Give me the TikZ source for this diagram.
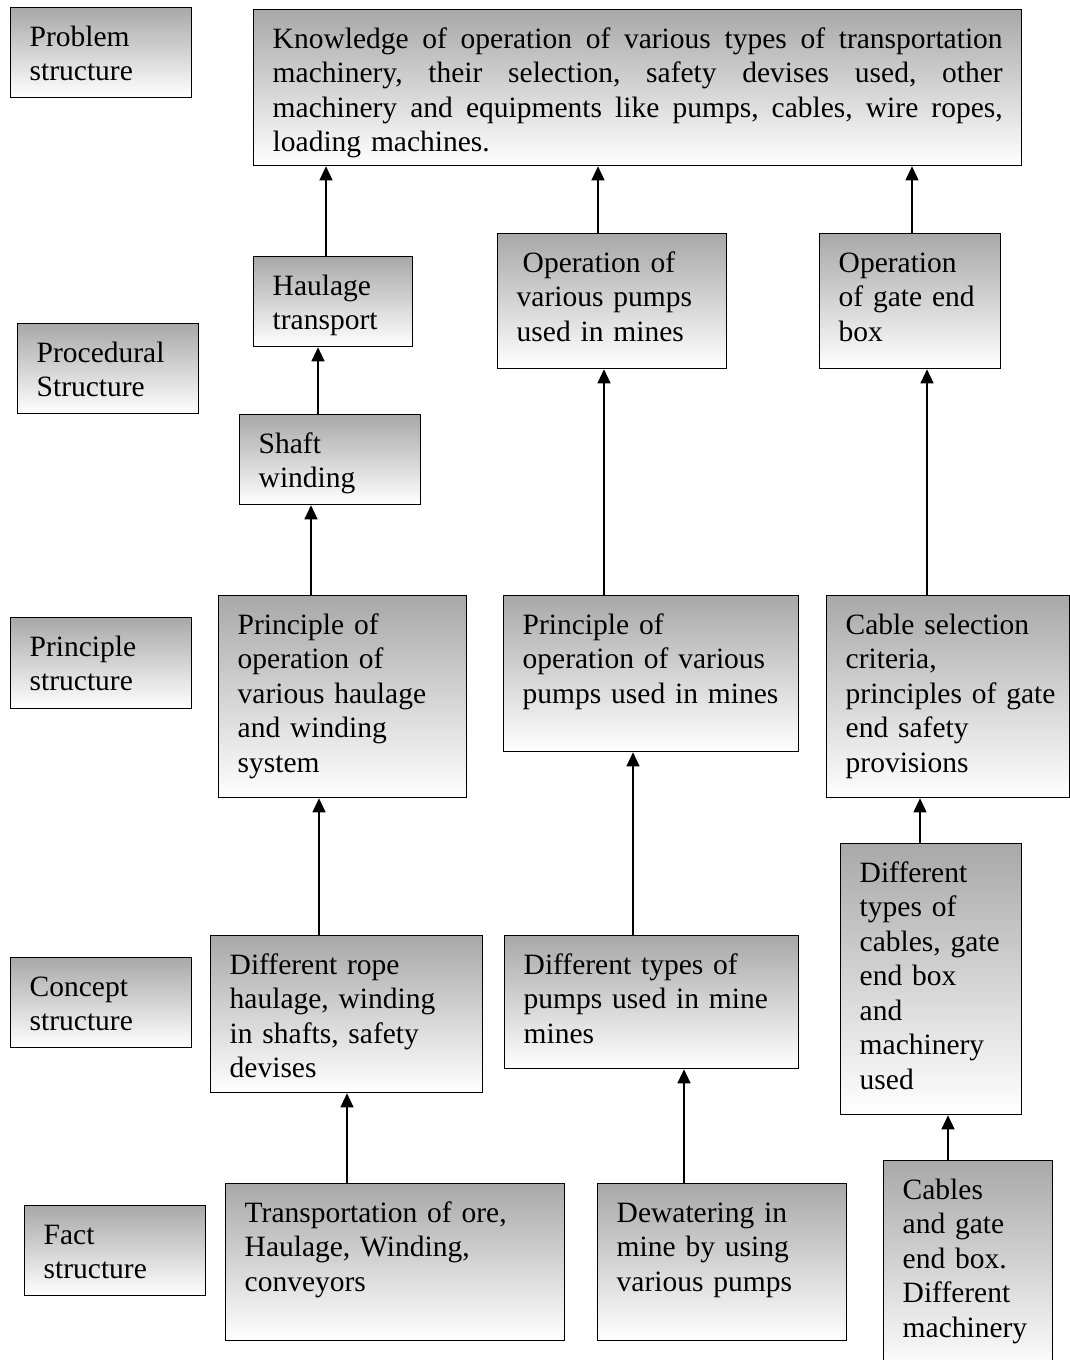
\documentclass[tikz,border=0pt]{standalone}
\usepackage{fontspec}
\setmainfont{Liberation Serif}
\usetikzlibrary{arrows.meta}
\definecolor{shadetop}{gray}{0.66}
\tikzset{
  panel/.style={draw=black, line width=1.3pt, top color=shadetop, bottom color=white,
    inner sep=0pt, anchor=north west},
  words/.style={anchor=north west, inner sep=0pt, text width=520pt, align=left,
    font=\fontsize{29.5}{34.5}\selectfont},
  arr/.style={line width=1.3pt, -{Triangle[length=14pt,width=13pt]}},
}
% #1 name, #2,#3 top-left corner, #4,#5 bottom-right corner, #6 text lines
\newcommand\panelbox[6]{%
  \node[panel, minimum width={(#4-#2)*1pt}, minimum height={(#5-#3)*1pt}] (#1) at (#2,#3) {};
  \node[words] (#1-txt) at (#2+19.5,#3+15) {\rule{0pt}{24pt}#6};
}
% a fully justified line of the given width
\newcommand\fullline[1]{\leavevmode\hbox to 730pt{#1}}
\begin{document}
\begin{tikzpicture}[x=1pt, y=-1pt]
\useasboundingbox (0,0) rectangle (1070,1360);

% level labels
\panelbox{lprob}{10}{7}{191}{97}{Problem\\structure}
\panelbox{lproc}{17}{323}{198}{413}{Procedural\\Structure}
\panelbox{lprin}{10}{617}{191}{708}{Principle\\structure}
\panelbox{lconc}{10}{957}{191}{1047}{Concept\\structure}
\panelbox{lfact}{24}{1205}{205}{1295}{Fact\\structure}

% problem level
\node[panel, minimum width=768pt, minimum height=156pt] (know) at (253,9) {};
\node[words, text width=730pt] (know-txt) at (272.5,24) {%
  \rule{0pt}{24pt}\fullline{Knowledge \hfill of \hfill operation \hfill of \hfill various \hfill types \hfill of \hfill transportation}\\
  \fullline{machinery, \hfill their \hfill selection, \hfill safety \hfill devises \hfill used, \hfill other}\\
  \fullline{machinery \hfill and \hfill equipments \hfill like \hfill pumps, \hfill cables, \hfill wire \hfill ropes,}\\
  loading machines.};

% procedural level
\panelbox{haul}{253}{256}{412}{346}{Haulage\\transport}
\panelbox{oppump}{497}{233}{726}{368}{\hspace*{6pt}Operation of\\various pumps\\used in mines}
\panelbox{opgate}{819}{233}{1000}{368}{Operation\\of gate end\\box}
\panelbox{shaft}{239}{414}{420}{504}{Shaft\\winding}

% principle level
\panelbox{prhaul}{218}{595}{466}{797}{Principle of\\operation of\\various haulage\\and winding\\system}
\panelbox{prpump}{503}{595}{798}{751}{Principle of\\operation of various\\pumps used in mines}
\panelbox{cable}{826}{595}{1069}{797}{Cable selection\\criteria,\\principles of gate\\end safety\\provisions}

% concept level
\panelbox{rope}{210}{935}{482}{1092}{Different rope\\haulage, winding\\in shafts, safety\\devises}
\panelbox{types}{504}{935}{798}{1068}{Different types of\\pumps used in mine\\mines}
\panelbox{cabtypes}{840}{843}{1021}{1114}{Different\\types of\\cables, gate\\end box\\and\\machinery\\used}

% fact level
\panelbox{trans}{225}{1183}{564}{1340}{Transportation of ore,\\Haulage, Winding,\\conveyors}
\panelbox{dewat}{597}{1183}{846}{1340}{Dewatering in\\mine by using\\various pumps}
\panelbox{cabfact}{883}{1160}{1052}{1372}{Cables\\and gate\\end box.\\Different\\machinery}

% connectors, all pointing upward
\draw[arr] (haul.north -| 326,0) -- (know.south -| 326,0);
\draw[arr] (oppump.north -| 598,0) -- (know.south -| 598,0);
\draw[arr] (opgate.north -| 912,0) -- (know.south -| 912,0);
\draw[arr] (shaft.north -| 318,0) -- (haul.south -| 318,0);
\draw[arr] (prhaul.north -| 311,0) -- (shaft.south -| 311,0);
\draw[arr] (prpump.north -| 604,0) -- (oppump.south -| 604,0);
\draw[arr] (cable.north -| 927,0) -- (opgate.south -| 927,0);
\draw[arr] (rope.north -| 319,0) -- (prhaul.south -| 319,0);
\draw[arr] (types.north -| 633,0) -- (prpump.south -| 633,0);
\draw[arr] (cabtypes.north -| 920,0) -- (cable.south -| 920,0);
\draw[arr] (trans.north -| 347,0) -- (rope.south -| 347,0);
\draw[arr] (dewat.north -| 684,0) -- (types.south -| 684,0);
\draw[arr] (cabfact.north -| 948,0) -- (cabtypes.south -| 948,0);
\end{tikzpicture}
\end{document}
